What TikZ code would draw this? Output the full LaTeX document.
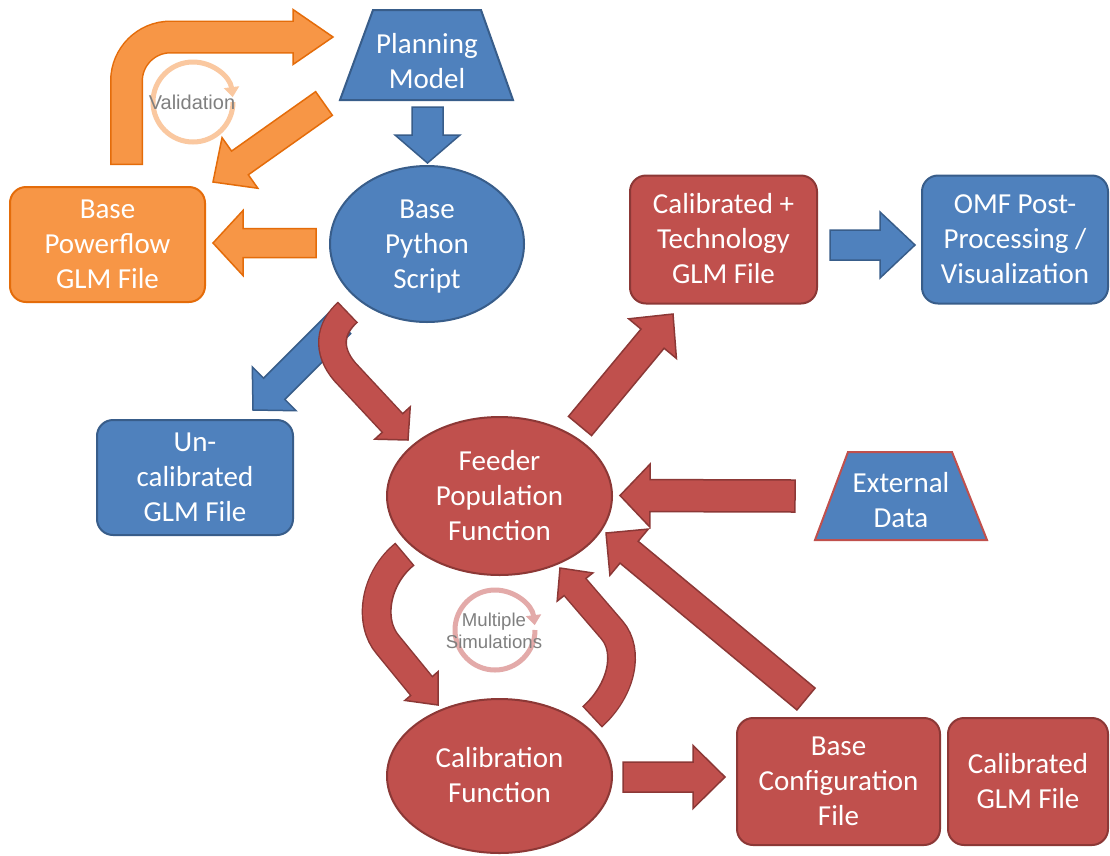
\documentclass[tikz,border=0pt]{standalone}
\usepackage{fontspec}
\setmainfont{Carlito}
\newfontfamily\lbsans{Liberation Sans}
\usetikzlibrary{calc,arrows.meta,shapes.geometric}
\definecolor{bfill}{HTML}{4F81BD}
\definecolor{bline}{HTML}{385D8A}
\definecolor{rfill}{HTML}{C0504D}
\definecolor{rline}{HTML}{8C3836}
\definecolor{ofill}{HTML}{F79646}
\definecolor{oline}{HTML}{E46C0A}
\definecolor{vcirc}{HTML}{FAC8A0}
\definecolor{mcirc}{HTML}{E3AAA9}
\definecolor{gtext}{HTML}{7F7F7F}

% line strut: every text line gets the same height/depth, centred on the cap height
\newcommand\lstr{\rule[-8.15pt]{0pt}{35pt}}

% straight block arrow: fill, line, start, tip, shaft half width, head half width, head length
\newcommand\blockarr[7]{%
  \coordinate (ba-c) at ($(#4)!#7!(#3)$);
  \filldraw[fill=#1,draw=#2,line width=1.5pt,line join=miter]
    ($(#3)!#5!90:(#4)$) -- ($(ba-c)!#5!90:(#4)$) -- ($(ba-c)!#6!90:(#4)$) -- (#4)
    -- ($(ba-c)!#6!-90:(#4)$) -- ($(ba-c)!#5!-90:(#4)$) -- ($(#3)!#5!-90:(#4)$) -- cycle;}

% curved block arrow: fill, line, shaft path (ending at head base), head base, tip,
% inner width, outer width, head half width
\newcommand\curvarr[8]{%
  \draw[#2,line width=#7] #3;
  \filldraw[fill=#1,draw=#2,line width=1.5pt,line join=miter]
    ($(#4)!#8!90:(#5)$) -- (#5) -- ($(#4)!#8!-90:(#5)$) -- cycle;
  \draw[#1,line width=#6,shorten <=1.5pt] #3 -- ($(#4)!4pt!(#5)$);}

\tikzset{
  lbl/.style={font=\fontsize{29}{35}\selectfont, text=white, align=center, inner sep=0pt},
  boxnode/.style={lbl, rectangle, rounded corners=16pt, line width=2pt},
  ellnode/.style={lbl, ellipse, line width=2pt},
  blueshape/.style={fill=bfill, draw=bline},
  redshape/.style={fill=rfill, draw=rline},
  orangeshape/.style={fill=ofill, draw=oline},
  cyclelbl/.style={font=\lbsans\fontsize{18.6}{22}\selectfont, text=gtext, align=center, inner sep=0pt},
}

\begin{document}
\begin{tikzpicture}[x=1pt,y=-1pt]
\useasboundingbox (0,0) rectangle (1110,855);
\fill[white] (0,0) rectangle (1110,855);

% ---------- shapes ----------
\filldraw[fill=bfill, draw=bline, line width=2pt, line join=miter]
  (373,10) -- (481,10) -- (513,100) -- (340,100) -- cycle;
\node[lbl] (pm) at (427,61.5) {\lstr Planning\\\lstr Model};

\filldraw[fill=bfill, draw=rfill, line width=2pt, line join=miter]
  (848,452) -- (952,452) -- (987,540) -- (815,540) -- cycle;
\node[lbl] (ext) at (901,501) {\lstr External\\\lstr Data};

\node[boxnode, orangeshape, minimum width=195pt, minimum height=115pt] (pf) at (107.5,244.5) {\lstr Base\\\lstr Powerflow\\\lstr GLM File};
\node[ellnode, blueshape, minimum width=194pt, minimum height=156pt] (py) at (427,244) {\lstr Base\\\lstr Python\\\lstr Script};
\node[boxnode, redshape, minimum width=187pt, minimum height=128pt] (ct) at (723.5,239.5) {\lstr Calibrated +\\\lstr Technology\\\lstr GLM File};
\node[boxnode, blueshape, minimum width=186pt, minimum height=128pt] (omf) at (1015,239.5) {\lstr OMF Post-\\\lstr Processing /\\\lstr Visualization};
\node[boxnode, blueshape, minimum width=196pt, minimum height=115pt] (unc) at (195,477.5) {\lstr Un-\\\lstr calibrated\\\lstr GLM File};
\node[ellnode, redshape, minimum width=225pt, minimum height=158pt] (feed) at (499.5,496) {\lstr Feeder\\\lstr Population\\\lstr Function};
\node[ellnode, redshape, minimum width=225pt, minimum height=154pt] (cal) at (499.5,776) {\lstr Calibration\\\lstr Function};
\node[boxnode, redshape, minimum width=203pt, minimum height=127pt] (bcf) at (838.5,781.5) {\lstr Base\\\lstr Configuration\\\lstr File};
\node[boxnode, redshape, minimum width=160pt, minimum height=127pt] (cglm) at (1028,781.5) {\lstr Calibrated\\\lstr GLM File};

% ---------- cycle markers ----------
\begin{scope}[shift={(193,102)}, y=1pt]
  \draw[vcirc, line width=5pt, -{Triangle[width=15pt,length=10pt]}]
    (0:40) arc[start angle=0, end angle=-353, radius=40];
\end{scope}
\node[cyclelbl, font=\lbsans\fontsize{20}{24}\selectfont] (valid) at (192,102) {Validation};

\begin{scope}[shift={(495,630)}, y=1pt]
  \draw[mcirc, line width=5pt, -{Triangle[width=15pt,length=10pt]}]
    (0:40) arc[start angle=0, end angle=-353, radius=40];
\end{scope}
\node[cyclelbl] (msim) at (494,631) {Multiple\\Simulations};

% ---------- arrow coordinates ----------
\coordinate (a1s) at (427.5,107);  \coordinate (a1t) at (427.5,163);
\coordinate (a2s) at (316,243);    \coordinate (a2t) at (213,243);
\coordinate (a3s) at (324,103.5);  \coordinate (a3t) at (213,182);
\coordinate (a4s) at (830,245);    \coordinate (a4t) at (915,245);
\coordinate (a5s) at (340,323);    \coordinate (a5t) at (253,410);
\coordinate (a6s) at (580,426);    \coordinate (a6t) at (673,314);
\coordinate (a7s) at (795,496);    \coordinate (a7t) at (620,495.5);
\coordinate (a8s) at (806,699);    \coordinate (a8t) at (606,533);
\coordinate (a9s) at (623,777);    \coordinate (a9t) at (725,777);

\coordinate (vs) at (126.5,165); \coordinate (vc) at (293,37); \coordinate (vt) at (333,37);
\coordinate (pfs) at (348,312); \coordinate (pfc) at (392.5,423); \coordinate (pft) at (408,440);
\coordinate (fcs) at (405,554); \coordinate (fcc) at (421.5,686); \coordinate (fct) at (438,705);
\coordinate (cfs) at (592,717); \coordinate (cfc) at (575,587); \coordinate (cft) at (560,568);

% ---------- arrows ----------
\blockarr{bfill}{bline}{a1s}{a1t}{15.5pt}{32.5pt}{28pt}
\blockarr{ofill}{oline}{a2s}{a2t}{14.5pt}{32.5pt}{30pt}
\blockarr{ofill}{oline}{a3s}{a3t}{14.5pt}{31pt}{33pt}
\blockarr{bfill}{bline}{a4s}{a4t}{15pt}{33pt}{35pt}
\blockarr{bfill}{bline}{a5s}{a5t}{15pt}{31pt}{30pt}
\blockarr{rfill}{rline}{a6s}{a6t}{15pt}{31pt}{32pt}
\blockarr{rfill}{rline}{a7s}{a7t}{16pt}{31.5pt}{30pt}
\blockarr{rfill}{rline}{a8s}{a8t}{14.2pt}{30pt}{30pt}
\blockarr{rfill}{rline}{a9s}{a9t}{15pt}{31.5pt}{32pt}

\curvarr{ofill}{oline}{(vs) -- (126.5,81) .. controls (126.5,56.7) and (146.2,37) .. (170.5,37) -- (vc)}{vc}{vt}{30pt}{33pt}{27.5pt}
\curvarr{rfill}{rline}{(pfs) .. controls (330,328) and (326,350) .. (345,372) -- (pfc)}{pfc}{pft}{26pt}{29pt}{24pt}
\curvarr{rfill}{rline}{(fcs) .. controls (375,578) and (368,622) .. (388,645) -- (fcc)}{fcc}{fct}{27pt}{30pt}{22pt}
\curvarr{rfill}{rline}{(cfs) .. controls (622,690) and (630,651) .. (612,630) -- (cfc)}{cfc}{cft}{26pt}{29pt}{22.7pt}

\end{tikzpicture}
\end{document}
